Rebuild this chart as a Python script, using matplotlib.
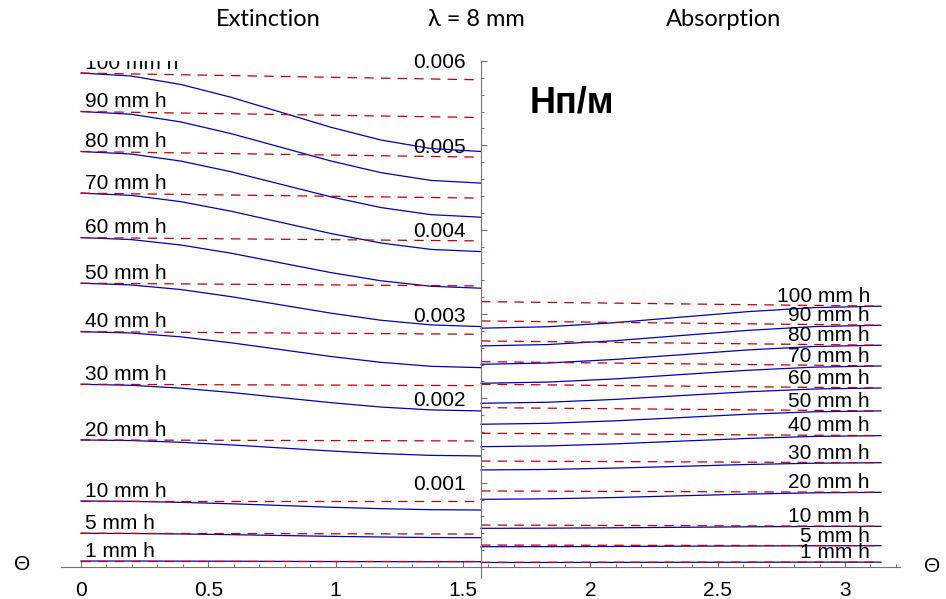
import numpy as np
import matplotlib.pyplot as plt
from matplotlib.ticker import MultipleLocator

plt.rcParams['font.family'] = ['Liberation Sans', 'DejaVu Sans']
plt.rcParams['lines.scale_dashes'] = False

# rain rates (mm/h), top to bottom
rates = ['100', '90', '80', '70', '60', '50', '40', '30', '20', '10', '5', '1']

# sample angles for each half (rad)
th_ext = np.linspace(0, np.pi/2, 9)
th_abs = np.linspace(np.pi/2, np.pi, 7)

# extinction, 1e-3 Np/m, read at theta = k*pi/16
ext = [
    [5.857, 5.822, 5.721, 5.570, 5.392, 5.214, 5.063, 4.962, 4.927],
    [5.401, 5.369, 5.277, 5.139, 4.977, 4.814, 4.676, 4.584, 4.552],
    [4.927, 4.897, 4.813, 4.687, 4.538, 4.389, 4.262, 4.178, 4.148],
    [4.433, 4.407, 4.332, 4.219, 4.087, 3.954, 3.842, 3.766, 3.740],
    [3.906, 3.883, 3.818, 3.721, 3.606, 3.491, 3.394, 3.329, 3.306],
    [3.365, 3.345, 3.290, 3.206, 3.108, 3.010, 2.926, 2.871, 2.851],
    [2.791, 2.775, 2.729, 2.659, 2.578, 2.496, 2.427, 2.380, 2.364],
    [2.167, 2.155, 2.121, 2.070, 2.009, 1.949, 1.897, 1.863, 1.851],
    [1.507, 1.500, 1.479, 1.448, 1.412, 1.376, 1.345, 1.324, 1.317],
    [0.783, 0.779, 0.767, 0.750, 0.730, 0.709, 0.692, 0.680, 0.676],
    [0.400, 0.398, 0.392, 0.384, 0.374, 0.364, 0.356, 0.350, 0.348],
    [0.071, 0.071, 0.070, 0.069, 0.067, 0.065, 0.064, 0.063, 0.063],
]
# dashed approximation, value at theta = pi/2 (starts at ext[i][0])
ext_dash_end = [5.777, 5.330, 4.860, 4.374, 3.867, 3.333, 2.760, 2.151, 1.495, 0.783, 0.391, 0.071]

# absorption, 1e-3 Np/m, read at theta = pi/2 + k*pi/12
absn = [
    [2.832, 2.849, 2.897, 2.963, 3.028, 3.076, 3.093],
    [2.622, 2.638, 2.683, 2.745, 2.806, 2.851, 2.867],
    [2.404, 2.419, 2.461, 2.517, 2.574, 2.615, 2.630],
    [2.179, 2.193, 2.230, 2.282, 2.333, 2.370, 2.384],
    [1.942, 1.954, 1.987, 2.033, 2.078, 2.111, 2.123],
    [1.693, 1.704, 1.733, 1.772, 1.812, 1.841, 1.851],
    [1.427, 1.436, 1.460, 1.493, 1.525, 1.549, 1.558],
    [1.151, 1.157, 1.173, 1.194, 1.216, 1.231, 1.237],
    [0.803, 0.809, 0.824, 0.845, 0.865, 0.880, 0.886],
    [0.459, 0.461, 0.465, 0.471, 0.477, 0.481, 0.483],
    [0.241, 0.242, 0.244, 0.247, 0.250, 0.252, 0.253],
    [0.054, 0.054, 0.055, 0.056, 0.057, 0.058, 0.058],
]
# dashed approximation, value at theta = pi/2 (ends at absn[i][-1])
abs_dash_start = [3.147, 2.918, 2.681, 2.435, 2.167, 1.890, 1.586, 1.257, 0.902, 0.498, 0.261, 0.056]

x_ticks = [0, 0.5, 1, 1.5, 2, 2.5, 3]
x_labels = ['0', '0.5', '1', '1.5', '2', '2.5', '3']
y_ticks = [0.001, 0.002, 0.003, 0.004, 0.005, 0.006]
y_labels = ['0.001', '0.002', '0.003', '0.004', '0.005', '0.006']

blue = '#0000b4'
red = '#c00000'
dash = (0, (6.8, 5.2))

fig = plt.figure(figsize=(9.46, 5.99), dpi=100)
ax = fig.add_axes([61/946, 21/599, 839/946, 517/599])

for i, r in enumerate(rates):
    e = np.array(ext[i])*1e-3
    a = np.array(absn[i])*1e-3
    ax.plot(th_ext, e, color=blue, lw=0.9)
    ax.plot(th_abs, a, color=blue, lw=0.9)
    ax.plot([th_ext[0], th_ext[-1]], [e[0], ext_dash_end[i]*1e-3], color=red, lw=0.9, ls=dash)
    ax.plot([th_abs[0], th_abs[-1]], [abs_dash_start[i]*1e-3, a[-1]], color=red, lw=0.9, ls=dash)
    ax.annotate(r + ' mm h', (0.015, e[0]), xytext=(0, 3), textcoords='offset points',
                fontsize=15, ha='left', va='baseline', clip_on=True)
    ax.annotate(r + ' mm h', (3.098, a[-1]), xytext=(0, 3), textcoords='offset points',
                fontsize=15, ha='right', va='baseline', clip_on=True)

ax.set_xlim(-0.0785, 3.216)
ax.set_ylim(-0.00013, 0.006)

for s in ['top', 'right']:
    ax.spines[s].set_visible(False)
ax.spines['left'].set_position(('data', np.pi/2))
ax.spines['bottom'].set_position(('data', 0))
for s in ['left', 'bottom']:
    ax.spines[s].set_color('0.45')
    ax.spines[s].set_linewidth(0.8)

ax.set_xticks(x_ticks, labels=x_labels)
ax.set_yticks(y_ticks, labels=y_labels)
ax.xaxis.set_minor_locator(MultipleLocator(0.1))
ax.yaxis.set_minor_locator(MultipleLocator(0.0002))
ax.tick_params(which='both', direction='in', color='0.45', width=0.8)
ax.tick_params(which='major', length=4.5, labelsize=15)
ax.tick_params(which='minor', length=2.5)
ax.tick_params(axis='x', pad=10)
ax.tick_params(axis='y', pad=11)

# headers
tfont = 'Lato'
fig.text(268/946, 1 - 20/599, 'Extinction', ha='center', va='center', fontsize=17, family=tfont)
fig.text(476/946, 1 - 20/599, 'λ = 8 mm', ha='center', va='center', fontsize=17, family=tfont)
fig.text(724/946, 1 - 20/599, 'Absorption', ha='center', va='center', fontsize=17, family=tfont)
fig.text(572/946, 1 - 103/599, 'Нп/м', ha='center', va='center', fontsize=26, fontweight='bold')

fig.text(22/946, 1 - 565/599, 'Θ', ha='center', va='center', fontsize=15)
fig.text(932/946, 1 - 567/599, 'Θ', ha='center', va='center', fontsize=15)

fig.savefig('out.png', dpi=100)
